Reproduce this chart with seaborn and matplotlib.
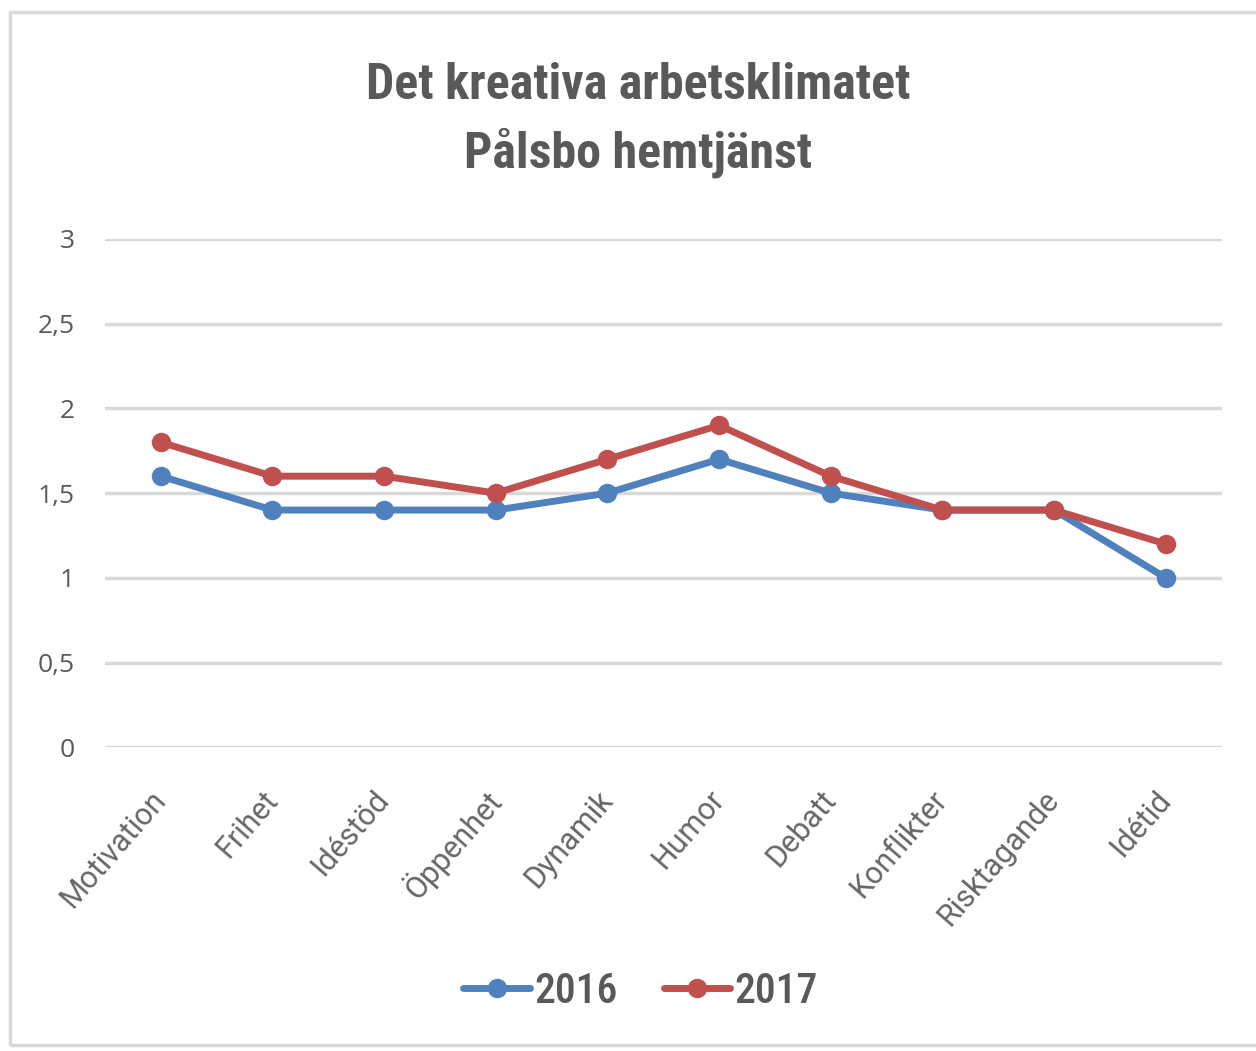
import matplotlib.pyplot as plt
import matplotlib.patches as mpatches
import seaborn as sns
import pandas as pd

categories = ['Motivation', 'Frihet', 'Idéstöd', 'Öppenhet', 'Dynamik',
              'Humor', 'Debatt', 'Konflikter', 'Risktagande', 'Idétid']
values_2016 = [1.6, 1.4, 1.4, 1.4, 1.5, 1.7, 1.5, 1.4, 1.4, 1.0]
values_2017 = [1.8, 1.6, 1.6, 1.5, 1.7, 1.9, 1.6, 1.4, 1.4, 1.2]
years = ['2016', '2017']
y_ticks = [0, 0.5, 1, 1.5, 2, 2.5, 3]
y_labels = ['0', '0,5', '1', '1,5', '2', '2,5', '3']

sns.set_theme(style="white")
plt.rcParams['font.family'] = ['Open Sans', 'DejaVu Sans']
narrow = ['Roboto Condensed', 'Roboto', 'DejaVu Sans']

df = pd.DataFrame({'Kategori': categories, '2016': values_2016, '2017': values_2017})
df['pos'] = range(len(categories))
long = df.melt(id_vars=['Kategori', 'pos'], value_vars=years, var_name='År', value_name='Värde')

text_gray = '#595959'
colors = ['#4f81bd', '#c0504d']
fig = plt.figure(figsize=(12.56, 10.51), dpi=100)
fig.patches.append(mpatches.Rectangle((0.008, 0.006), 1.1, 0.983, transform=fig.transFigure,
                                      fill=False, edgecolor='#d9d9d9', linewidth=2.5))
ax = fig.add_axes([0.0836, 0.289, 0.889, 0.4836])

sns.lineplot(data=long, x='pos', y='Värde', hue='År', palette=colors,
             marker='o', markersize=14, markeredgewidth=0, linewidth=5, ax=ax, legend=False)

ax.set_xlim(-0.5, len(categories) - 0.5)
ax.set_ylim(0, 3)
ax.set_yticks(y_ticks)
ax.set_yticklabels(y_labels, fontsize=19, color=text_gray)
ax.yaxis.grid(True, color='#d9d9d9', linewidth=2.5)
ax.set_axisbelow(True)
for s in ax.spines.values():
    s.set_visible(False)
ax.tick_params(axis='y', length=0, pad=22)
ax.tick_params(axis='x', length=0, pad=34)
ax.set_xticks(range(len(categories)))
ax.set_xticklabels(categories, rotation=49, ha='right', va='center', rotation_mode='anchor',
                   fontsize=22, color='#666666')
for lbl in ax.get_xticklabels():
    lbl.set_family(['Roboto', 'Open Sans', 'DejaVu Sans'])
ax.set_xlabel('')
ax.set_ylabel('')

fig.text(0.508, 0.886, 'Det kreativa arbetsklimatet\nPålsbo hemtjänst', ha='center', va='center',
         fontsize=36, fontweight='bold', color=text_gray, linespacing=1.47, family=narrow)

handles = [plt.Line2D([], [], color=c, marker='o', markersize=14, markeredgewidth=0, linewidth=5)
           for c in colors]
fig.legend(handles, years, loc='center', bbox_to_anchor=(0.51, 0.057), ncol=2, frameon=False,
           prop={'family': narrow, 'size': 30, 'weight': 'medium'},
           labelcolor=text_gray, handlelength=1.6, handletextpad=0.1, columnspacing=1.1)

fig.savefig('out.png', dpi=100)
